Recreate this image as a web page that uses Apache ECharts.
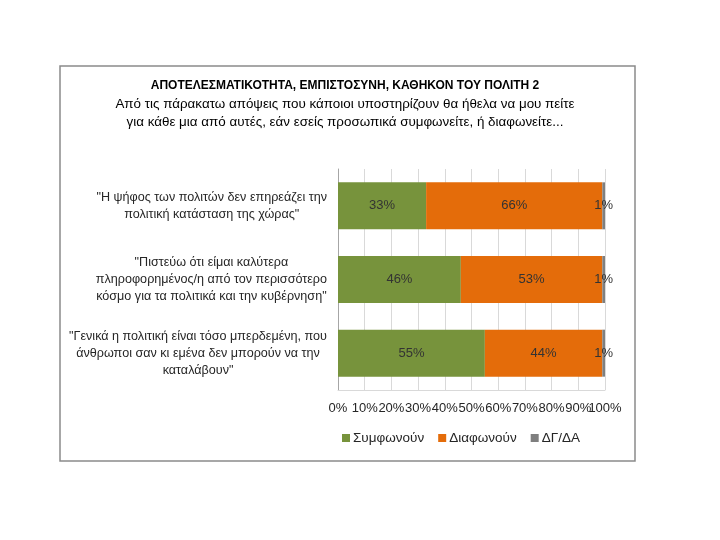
<!DOCTYPE html>
<html>
<head>
<meta charset="utf-8">
<script src="https://cdn.jsdelivr.net/npm/echarts@6/dist/echarts.min.js"></script>
<style>
  html, body { margin: 0; padding: 0; background: #fff; }
  #main { width: 720px; height: 540px; }
</style>
</head>
<body>
<div id="main"></div>
<script>
var chartDom = document.getElementById('main');
var myChart = echarts.init(chartDom);
var option;

var font = 'Liberation Sans';

var titleText = 'ΑΠΟΤΕΛΕΣΜΑΤΙΚΟΤΗΤΑ, ΕΜΠΙΣΤΟΣΥΝΗ, ΚΑΘΗΚΟΝ ΤΟΥ ΠΟΛΙΤΗ 2';
var subText = 'Από τις πάρακατω απόψεις που κάποιοι υποστηρίζουν θα ήθελα να μου πείτε\nγια κάθε μια από αυτές, εάν εσείς προσωπικά συμφωνείτε, ή διαφωνείτε...';

var categories = [
  '"Η ψήφος των πολιτών δεν επηρεάζει την\nπολιτική κατάσταση της χώρας"',
  '"Πιστεύω ότι είμαι καλύτερα\nπληροφορημένος/η από τον περισσότερο\nκόσμο για τα πολιτικά και την κυβέρνηση"',
  '"Γενικά η πολιτική είναι τόσο μπερδεμένη, που\nάνθρωποι σαν κι εμένα δεν μπορούν να την\nκαταλάβουν"'
];
var seriesNames = ['Συμφωνούν', 'Διαφωνούν', 'ΔΓ/ΔΑ'];
var agree = [33, 46, 55];
var disagree = [66, 53, 44];
var dkna = [1, 1, 1];
var colors = ['#77933C', '#E46C0A', '#7F7F7F'];

function barSeries(name, data, color) {
  return {
    name: name,
    type: 'bar',
    stack: 'total',
    barWidth: 47,
    itemStyle: { color: color },
    label: {
      show: true,
      position: 'inside',
      formatter: '{c}%',
      color: '#333',
      fontFamily: font,
      fontSize: 13
    },
    data: data
  };
}

var xLabelStyle = {
  formatter: '{value}%',
  margin: 12,
  color: '#262626',
  fontFamily: font,
  fontSize: 13
};

option = {
  animation: false,
  backgroundColor: '#fff',
  textStyle: { fontFamily: font },
  graphic: [{
    type: 'rect',
    shape: { x: 60, y: 66, width: 575, height: 395 },
    style: { fill: 'none', stroke: '#8a8a8a', lineWidth: 1.5 }
  }],
  title: {
    text: titleText,
    subtext: subText,
    left: 345,
    top: 77,
    textAlign: 'center',
    padding: 0,
    itemGap: 0,
    textStyle: { fontFamily: font, fontSize: 12, fontWeight: 'bold', color: '#000', lineHeight: 18 },
    subtextStyle: { fontFamily: font, fontSize: 13.4, color: '#000', lineHeight: 18 }
  },
  legend: {
    data: seriesNames,
    left: 337,
    top: 426,
    icon: 'rect',
    itemWidth: 8,
    itemHeight: 8,
    itemGap: 14,
    textStyle: { fontFamily: font, fontSize: 13.5, color: '#262626', padding: [0, 0, 0, -2] }
  },
  grid: { left: 338, right: 115, top: 169, bottom: 150 },
  xAxis: [
    {
      type: 'value',
      min: 0,
      max: 100,
      interval: 10,
      axisLine: { show: true, lineStyle: { color: '#D9D9D9' } },
      axisTick: { show: false },
      splitLine: { show: true, lineStyle: { color: '#D9D9D9' } },
      axisLabel: Object.assign({ showMaxLabel: false, showMinLabel: true }, xLabelStyle)
    },
    {
      // only carries the 100% label, so it is not dropped next to 90%
      type: 'value',
      position: 'bottom',
      min: 0,
      max: 100,
      interval: 100,
      axisLine: { show: false },
      axisTick: { show: false },
      splitLine: { show: false },
      axisLabel: Object.assign({}, xLabelStyle, {
        showMaxLabel: true,
        formatter: function (v) { return v === 100 ? v + '%' : ''; }
      })
    }
  ],
  yAxis: {
    type: 'category',
    inverse: true,
    data: categories,
    axisLine: { show: true, lineStyle: { color: '#A6A6A6' } },
    axisTick: { show: false },
    axisLabel: {
      margin: 11,
      color: '#262626',
      fontFamily: font,
      fontSize: 12.6,
      lineHeight: 17,
      formatter: function (v) {
        return v.split('\n').map(function (l) { return '{c|' + l + '}'; }).join('\n');
      },
      rich: {
        c: { align: 'center', fontFamily: font, fontSize: 12.6, lineHeight: 17, color: '#262626' }
      }
    }
  },
  series: [
    barSeries(seriesNames[0], agree, colors[0]),
    barSeries(seriesNames[1], disagree, colors[1]),
    barSeries(seriesNames[2], dkna, colors[2])
  ]
};

option && myChart.setOption(option);
</script>
</body>
</html>
